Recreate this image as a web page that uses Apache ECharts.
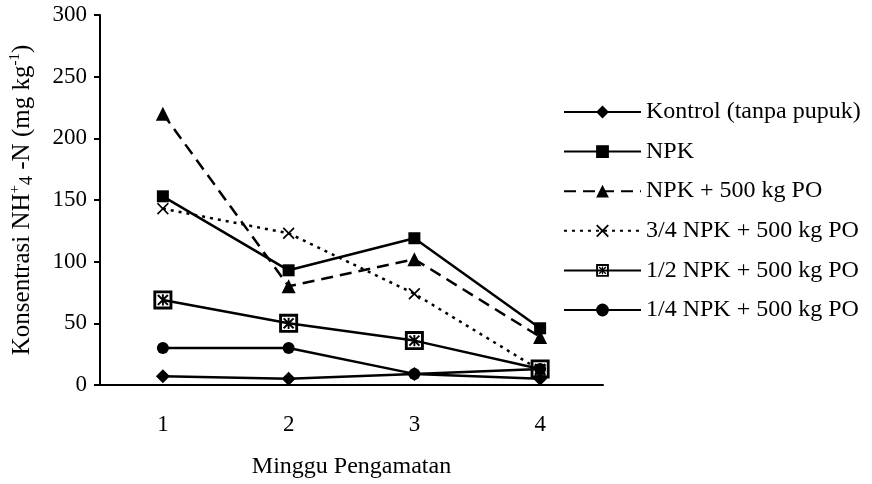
<!DOCTYPE html>
<html><head><meta charset="utf-8">
<script src="https://cdn.jsdelivr.net/npm/echarts@6/dist/echarts.min.js"></script>
<style>html,body{margin:0;padding:0;background:#fff}#c{width:872px;height:484px}</style>
</head><body><div id="c"></div>
<script>
const weeks = ['1', '2', '3', '4'];
const seriesNames = ['Kontrol (tanpa pupuk)', 'NPK', 'NPK + 500 kg PO', '3/4 NPK + 500 kg PO', '1/2 NPK + 500 kg PO', '1/4 NPK + 500 kg PO'];
const kontrol = [7, 5, 9, 5];
const npk = [153, 93, 119, 46];
const npk500 = [220, 80, 102, 39];
const npk34 = [143, 123, 74, 12];
const npk12 = [69, 50, 36, 13];
const npk14 = [30, 30, 9, 13];
const yTicks = [0, 50, 100, 150, 200, 250, 300];

const FONT = '"Liberation Serif", "Times New Roman", serif';
const FS = 23;
const FL = 24;
const FY = 25;
const crossPath = 'path://M0,2 L2,0 L10,8 L18,0 L20,2 L12,10 L20,18 L18,20 L10,12 L2,20 L0,18 L8,10 Z';
const boxStarPath = 'path://M0,0 L20,0 L20,20 L0,20 Z M3,3 L3,17 L17,17 L17,3 Z M4,5.5 L5.5,4 L16,14.5 L14.5,16 Z M14.5,4 L16,5.5 L5.5,16 L4,14.5 Z M9,4 L11,4 L11,16 L9,16 Z';

function mk(name, data, symbol, size, type) {
  return {
    name: name, type: 'line', data: data, symbol: symbol, symbolSize: size,
    lineStyle: { color: '#000', width: 2.5, type: type },
    itemStyle: { color: '#000' },
    showAllSymbol: true, animation: false
  };
}

const chart = echarts.init(document.getElementById('c'));
chart.setOption({
  backgroundColor: '#fff',
  animation: false,
  grid: { left: 99, right: 269, top: 15, bottom: 96 },
  legend: {
    orient: 'vertical', left: 563, top: 100, padding: 0, itemGap: 15.6, itemWidth: 77, itemHeight: 16,
    textStyle: { fontFamily: FONT, fontSize: FL, color: '#000', lineHeight: 24 },
    data: seriesNames
  },
  xAxis: {
    type: 'category', data: weeks, boundaryGap: true,
    axisLine: { lineStyle: { color: '#000', width: 2 } },
    axisTick: { lineStyle: { color: '#000', width: 2 }, length: 6 },
    axisLabel: { color: '#000', fontFamily: FONT, fontSize: FS, margin: 28 },
    name: 'Minggu Pengamatan', nameLocation: 'middle', nameGap: 70,
    nameTextStyle: { color: '#000', fontFamily: FONT, fontSize: FL }
  },
  yAxis: {
    type: 'value', min: yTicks[0], max: yTicks[yTicks.length - 1], interval: 50,
    splitLine: { show: false },
    axisLine: { show: true, lineStyle: { color: '#000', width: 2 } },
    axisTick: { show: true, lineStyle: { color: '#000', width: 2 }, length: 6 },
    axisLabel: { color: '#000', fontFamily: FONT, fontSize: FS, margin: 13 },
    name: '{n|Konsentrasi NH}{sup|+}{s|4}{n| -N (mg kg}{sup|-1}{n|)}',
    nameLocation: 'middle', nameRotate: 90, nameGap: 64,
    nameTextStyle: {
      color: '#000', fontFamily: FONT, fontSize: FY,
      rich: {
        n: { fontFamily: FONT, fontSize: FY, color: '#000', lineHeight: 28 },
        s: { fontFamily: FONT, fontSize: 18, color: '#000', lineHeight: 28, verticalAlign: 'bottom' },
        sup: { fontFamily: FONT, fontSize: 15, color: '#000', lineHeight: 28, verticalAlign: 'top' }
      }
    }
  },
  series: [
    mk(seriesNames[0], kontrol, 'diamond', 14, 'solid'),
    mk(seriesNames[1], npk, 'rect', 12, 'solid'),
    mk(seriesNames[2], npk500, 'triangle', 14, [12, 7]),
    mk(seriesNames[3], npk34, crossPath, 12, [3, 5]),
    mk(seriesNames[4], npk12, boxStarPath, 19, 'solid'),
    mk(seriesNames[5], npk14, 'circle', 12, 'solid')
  ]
});
</script></body></html>
